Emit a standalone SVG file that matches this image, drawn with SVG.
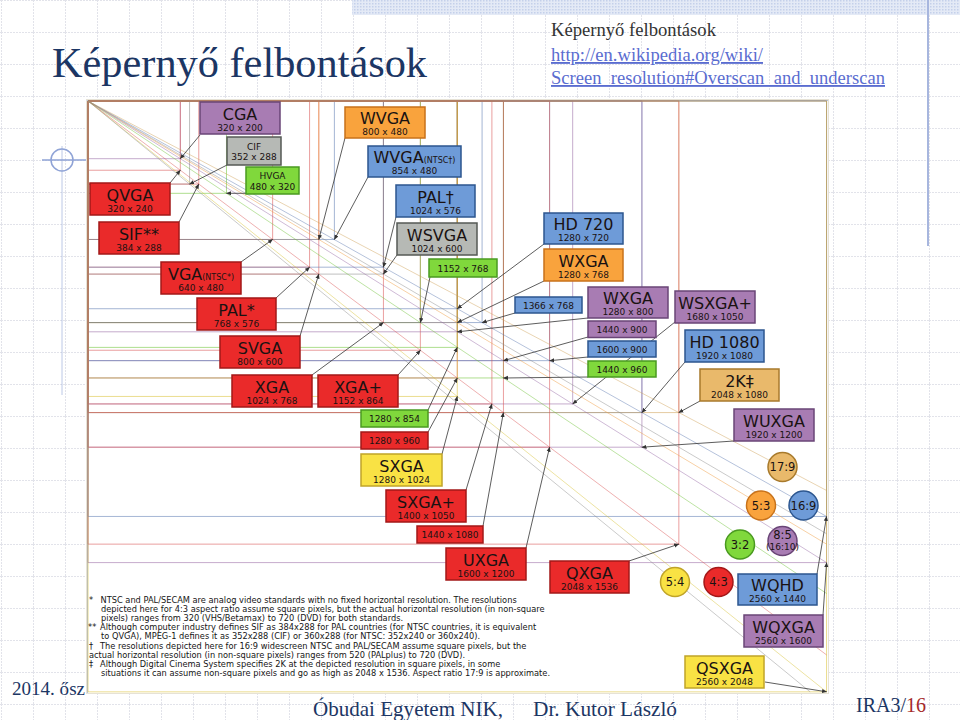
<svg xmlns="http://www.w3.org/2000/svg" width="960" height="720" viewBox="0 0 960 720">
<defs>
<pattern id="grid" x="1" y="0" width="32" height="32" patternUnits="userSpaceOnUse">
<path d="M0 0.5 H32 M0.5 0 V32" fill="none" stroke="#e2e3ea" stroke-width="1" stroke-dasharray="2 1"/>
</pattern>
<pattern id="dots" width="3" height="3" patternUnits="userSpaceOnUse">
<rect width="3" height="3" fill="#e4eaf6"/>
<rect width="1.5" height="1.5" fill="#c4d0ea"/>
</pattern>
<marker id="ah" viewBox="0 0 6 6" refX="5.5" refY="3" markerWidth="5" markerHeight="5" markerUnits="userSpaceOnUse" orient="auto">
<path d="M0 0.5 L6 3 L0 5.5 z" fill="#333"/>
</marker>
<style>
.bg{fill:url(#grid)}
.ln{fill:none;stroke-width:1;vector-effect:non-scaling-stroke;stroke-opacity:0.55}
.dg{fill:none;stroke-width:1;vector-effect:non-scaling-stroke;stroke-opacity:0.45}
.r{stroke:#d95050}.p{stroke:#9566a3}.b{stroke:#5a78b0}.o{stroke:#ef9a3a}.g{stroke:#6cc232}.y{stroke:#d8c030}.k{stroke:#8a8a8a}.n{stroke:#cfa055}
.ar{stroke:#333;stroke-width:0.8;fill:none;marker-end:url(#ah)}
.box{stroke-width:1.5}
.red{fill:#ea2a2a;stroke:#a31818}
.pur{fill:#a87cb3;stroke:#6a4577}
.blu{fill:#6e9bd8;stroke:#2c568f}
.ora{fill:#f9a33d;stroke:#c8721a}
.grn{fill:#80d83c;stroke:#4a9a20}
.gry{fill:#b6b9b5;stroke:#555a55}
.yel{fill:#f9e244;stroke:#c0a428}
.tan{fill:#e9b96b;stroke:#a87a2c}
.t1{font-family:"DejaVu Sans",sans-serif;font-size:16px;fill:#1a1212;text-anchor:middle}
.t2{font-family:"DejaVu Sans",sans-serif;font-size:9px;fill:#1a1212;text-anchor:middle}
.t3{font-family:"DejaVu Sans",sans-serif;font-size:11.5px;fill:#1a1212;text-anchor:middle}
.fn{font-family:"DejaVu Sans",sans-serif;font-size:8.25px;fill:#151515}
.sl{font-family:"Liberation Serif","Times New Roman",serif;fill:#1c3664}
</style>
</defs>

<!-- slide background -->
<rect width="960" height="720" fill="#ffffff"/>
<rect class="bg" width="960" height="720"/>
<rect x="352" y="0" width="608" height="15" fill="url(#dots)"/>
<line x1="928" y1="0" x2="928" y2="246" stroke="#a7b6de" stroke-width="2"/>
<g id="crosshair" fill="none" stroke="#8fa3d6" stroke-width="1.5">
<circle cx="62" cy="160" r="11"/>
<line x1="42" y1="160" x2="88" y2="160"/>
<line x1="62" y1="146" x2="62" y2="395" stroke-width="1" stroke-opacity="0.6"/>
</g>

<!-- slide texts -->
<text class="sl" x="52" y="77" font-size="42" textLength="375" lengthAdjust="spacingAndGlyphs">Képernyő felbontások</text>
<text x="551" y="36" font-family="Liberation Serif,serif" font-size="18.5" fill="#333" textLength="165" lengthAdjust="spacingAndGlyphs">Képernyő felbontások</text>
<text x="551" y="61" font-family="Liberation Serif,serif" font-size="18.5" fill="#5a6cd0" text-decoration="underline" textLength="212" lengthAdjust="spacingAndGlyphs">http://en.wikipedia.org/wiki/</text>
<text x="551" y="84" font-family="Liberation Serif,serif" font-size="18.5" fill="#5a6cd0" text-decoration="underline" textLength="334" lengthAdjust="spacingAndGlyphs">Screen_resolution#Overscan_and_underscan</text>

<!-- chart area -->
<rect x="86.5" y="99.5" width="742" height="594" fill="#ffffff" stroke="#e6e2d6" stroke-width="1"/>
<line x1="87" y1="100.5" x2="828" y2="100.5" stroke="#b8c2d8" stroke-width="1.2"/>
<line x1="87.5" y1="100" x2="87.5" y2="693" stroke="#b8c2d8" stroke-width="1"/>

<g id="connectors">
<g id="grid-lines" transform="translate(88,101) scale(0.2885)">
<rect class="ln p" width="320" height="200"/>
<rect class="ln k" width="352" height="288"/>
<rect class="ln g" width="480" height="320"/>
<rect class="ln r" width="320" height="240"/>
<rect class="ln r" width="384" height="288"/>
<rect class="ln r" width="640" height="480"/>
<rect class="ln r" width="768" height="576"/>
<rect class="ln r" width="800" height="600"/>
<rect class="ln r" width="1024" height="768"/>
<rect class="ln r" width="1152" height="864"/>
<rect class="ln o" width="800" height="480"/>
<rect class="ln b" width="854" height="480"/>
<rect class="ln b" width="1024" height="576"/>
<rect class="ln k" width="1024" height="600"/>
<rect class="ln g" width="1152" height="768"/>
<rect class="ln b" width="1280" height="720"/>
<rect class="ln o" width="1280" height="768"/>
<rect class="ln b" width="1366" height="768"/>
<rect class="ln p" width="1280" height="800"/>
<rect class="ln p" width="1440" height="900"/>
<rect class="ln b" width="1600" height="900"/>
<rect class="ln g" width="1440" height="960"/>
<rect class="ln p" width="1680" height="1050"/>
<rect class="ln b" width="1920" height="1080"/>
<rect class="ln n" width="2048" height="1080"/>
<rect class="ln p" width="1920" height="1200"/>
<rect class="ln g" width="1280" height="854"/>
<rect class="ln r" width="1280" height="960"/>
<rect class="ln y" width="1280" height="1024"/>
<rect class="ln r" width="1400" height="1050"/>
<rect class="ln r" width="1440" height="1080"/>
<rect class="ln r" width="1600" height="1200"/>
<rect class="ln r" width="2048" height="1536"/>
<rect class="ln b" width="2560" height="1440"/>
<rect class="ln p" width="2560" height="1600"/>
<rect class="ln y" width="2560" height="2048"/>
<line class="dg y" x1="0" y1="0" x2="2560" y2="2048"/>
<line class="dg r" x1="0" y1="0" x2="2560" y2="1920"/>
<line class="dg k" x1="0" y1="0" x2="2503" y2="2048"/>
<line class="dg g" x1="0" y1="0" x2="2560" y2="1707"/>
<line class="dg p" x1="0" y1="0" x2="2560" y2="1600"/>
<line class="dg o" x1="0" y1="0" x2="2560" y2="1536"/>
<line class="dg k" x1="0" y1="0" x2="2560" y2="1500"/>
<line class="dg b" x1="0" y1="0" x2="2560" y2="1440"/>
<line class="dg n" x1="0" y1="0" x2="2560" y2="1350"/>
</g>
<g id="arrows">
<line class="ar" x1="200" y1="135" x2="180.3" y2="158.7"/>
<line class="ar" x1="227" y1="165" x2="189.6" y2="184.1"/>
<line class="ar" x1="246" y1="193.3" x2="226.5" y2="193.3"/>
<line class="ar" x1="170" y1="183" x2="180.3" y2="170.2"/>
<line class="ar" x1="179" y1="222" x2="198.8" y2="184.1"/>
<line class="ar" x1="241" y1="262" x2="272.6" y2="239.5"/>
<line class="ar" x1="276" y1="298" x2="309.6" y2="267.2"/>
<line class="ar" x1="300" y1="336" x2="318.8" y2="274.1"/>
<line class="ar" x1="312" y1="375" x2="383.4" y2="322.6"/>
<line class="ar" x1="398" y1="375" x2="420.4" y2="350.3"/>
<line class="ar" x1="345" y1="138" x2="318.8" y2="239.5"/>
<line class="ar" x1="368" y1="177" x2="334.4" y2="239.5"/>
<line class="ar" x1="396" y1="217" x2="383.4" y2="267.2"/>
<line class="ar" x1="397" y1="255" x2="383.4" y2="274.1"/>
<line class="ar" x1="430" y1="277" x2="420.4" y2="322.6"/>
<line class="ar" x1="544" y1="244" x2="457.3" y2="308.7"/>
<line class="ar" x1="544" y1="281" x2="457.3" y2="322.6"/>
<line class="ar" x1="515" y1="313" x2="482.1" y2="322.6"/>
<line class="ar" x1="588" y1="318" x2="457.3" y2="331.8"/>
<line class="ar" x1="588" y1="337" x2="503.4" y2="360.7"/>
<line class="ar" x1="588" y1="357" x2="549.6" y2="360.7"/>
<line class="ar" x1="588" y1="377" x2="503.4" y2="378"/>
<line class="ar" x1="675" y1="322" x2="572.7" y2="403.9"/>
<line class="ar" x1="685" y1="362" x2="641.9" y2="412.6"/>
<line class="ar" x1="700" y1="401" x2="678.8" y2="412.6"/>
<line class="ar" x1="734" y1="441" x2="641.9" y2="447.2"/>
<line class="ar" x1="428" y1="410" x2="457.3" y2="347.4"/>
<line class="ar" x1="428" y1="432" x2="457.3" y2="378"/>
<line class="ar" x1="442" y1="454" x2="457.3" y2="396.4"/>
<line class="ar" x1="466" y1="490" x2="491.9" y2="403.9"/>
<line class="ar" x1="483" y1="526" x2="503.4" y2="412.6"/>
<line class="ar" x1="526" y1="548" x2="549.6" y2="447.2"/>
<line class="ar" x1="629" y1="561" x2="678.8" y2="544.1"/>
<line class="ar" x1="817" y1="574" x2="826.6" y2="516.4"/>
<line class="ar" x1="823" y1="615" x2="826.6" y2="562.6"/>
<line class="ar" x1="765" y1="682" x2="826.6" y2="691.8"/>
</g>
</g>

<!-- nodes -->
<g id="cga"><rect class="box pur" x="200" y="102" width="80" height="32"/><text class="t1" x="240" y="119.5">CGA</text><text class="t2" x="240" y="130.5">320 x 200</text></g>
<g id="cif"><rect class="box gry" x="227" y="137" width="54" height="28"/><text class="t2" x="254" y="149.5">CIF</text><text class="t2" x="254" y="160">352 x 288</text></g>
<g id="hvga"><rect class="box grn" x="246" y="167" width="53" height="27"/><text class="t2" x="272.5" y="179">HVGA</text><text class="t2" x="272.5" y="189.5">480 x 320</text></g>
<g id="qvga"><rect class="box red" x="90" y="183" width="80" height="32"/><text class="t1" x="130" y="200.5">QVGA</text><text class="t2" x="130" y="211.5">320 x 240</text></g>
<g id="sif"><rect class="box red" x="99" y="222" width="80" height="32"/><text class="t1" x="139" y="239.5">SIF**</text><text class="t2" x="139" y="250.5">384 x 288</text></g>
<g id="vga"><rect class="box red" x="161" y="262" width="80" height="32"/><text class="t1" x="201" y="279.5">VGA<tspan font-size="8">(NTSC*)</tspan></text><text class="t2" x="201" y="290.5">640 x 480</text></g>
<g id="pal"><rect class="box red" x="197" y="298" width="79" height="32"/><text class="t1" x="236.5" y="315.5">PAL*</text><text class="t2" x="236.5" y="326.5">768 x 576</text></g>
<g id="svga"><rect class="box red" x="220" y="336" width="80" height="32"/><text class="t1" x="260" y="353.5">SVGA</text><text class="t2" x="260" y="364.5">800 x 600</text></g>
<g id="xga"><rect class="box red" x="232" y="375" width="80" height="32"/><text class="t1" x="272" y="392.5">XGA</text><text class="t2" x="272" y="403.5">1024 x 768</text></g>
<g id="xgaplus"><rect class="box red" x="318" y="375" width="80" height="32"/><text class="t1" x="358" y="392.5">XGA+</text><text class="t2" x="358" y="403.5">1152 x 864</text></g>
<g id="wvga"><rect class="box ora" x="345" y="107" width="80" height="31"/><text class="t1" x="385" y="124">WVGA</text><text class="t2" x="385" y="135">800 x 480</text></g>
<g id="wvga-ntsc"><rect class="box blu" x="368" y="146" width="93" height="31"/><text class="t1" x="414.5" y="163">WVGA<tspan font-size="8">(NTSC†)</tspan></text><text class="t2" x="414.5" y="174">854 x 480</text></g>
<g id="pal-wide"><rect class="box blu" x="396" y="185" width="79" height="32"/><text class="t1" x="435.5" y="202.5">PAL†</text><text class="t2" x="435.5" y="213.5">1024 x 576</text></g>
<g id="wsvga"><rect class="box gry" x="397" y="223" width="80" height="32"/><text class="t1" x="437" y="240.5">WSVGA</text><text class="t2" x="437" y="251.5">1024 x 600</text></g>
<g id="r1152x768"><rect class="box grn" x="429" y="259" width="68" height="18"/><text class="t2" x="463" y="271.5">1152 x 768</text></g>
<g id="hd720"><rect class="box blu" x="544" y="213" width="79" height="31"/><text class="t1" x="583.5" y="230">HD 720</text><text class="t2" x="583.5" y="241">1280 x 720</text></g>
<g id="wxga768"><rect class="box ora" x="544" y="249" width="79" height="32"/><text class="t1" x="583.5" y="266.5">WXGA</text><text class="t2" x="583.5" y="277.5">1280 x 768</text></g>
<g id="r1366x768"><rect class="box blu" x="515" y="297" width="67" height="16"/><text class="t2" x="548.5" y="308.5">1366 x 768</text></g>
<g id="wxga800"><rect class="box pur" x="588" y="287" width="80" height="31"/><text class="t1" x="628" y="304">WXGA</text><text class="t2" x="628" y="315">1280 x 800</text></g>
<g id="r1440x900"><rect class="box pur" x="588" y="321" width="68" height="16.5"/><text class="t2" x="622" y="332.5">1440 x 900</text></g>
<g id="r1600x900"><rect class="box blu" x="588" y="341" width="68" height="16"/><text class="t2" x="622" y="352.5">1600 x 900</text></g>
<g id="r1440x960"><rect class="box grn" x="588" y="361" width="68" height="16"/><text class="t2" x="622" y="372.5">1440 x 960</text></g>
<g id="wsxgaplus"><rect class="box pur" x="675" y="291" width="80" height="32"/><text class="t1" x="715" y="308.5">WSXGA+</text><text class="t2" x="715" y="319.5">1680 x 1050</text></g>
<g id="hd1080"><rect class="box blu" x="685" y="330" width="79" height="32"/><text class="t1" x="724.5" y="347.5">HD 1080</text><text class="t2" x="724.5" y="358.5">1920 x 1080</text></g>
<g id="k2"><rect class="box tan" x="700" y="369" width="79" height="32"/><text class="t1" x="739.5" y="386.5">2K‡</text><text class="t2" x="739.5" y="397.5">2048 x 1080</text></g>
<g id="wuxga"><rect class="box pur" x="734" y="409" width="80" height="32"/><text class="t1" x="774" y="426.5">WUXGA</text><text class="t2" x="774" y="437.5">1920 x 1200</text></g>
<g id="r1280x854"><rect class="box grn" x="361" y="410" width="67" height="17"/><text class="t2" x="394.5" y="422">1280 x 854</text></g>
<g id="r1280x960"><rect class="box red" x="361" y="432" width="67" height="17"/><text class="t2" x="394.5" y="444">1280 x 960</text></g>
<g id="sxga"><rect class="box yel" x="361" y="454" width="81" height="32"/><text class="t1" x="401.5" y="471.5">SXGA</text><text class="t2" x="401.5" y="482.5">1280 x 1024</text></g>
<g id="sxgaplus"><rect class="box red" x="386" y="490" width="80" height="32"/><text class="t1" x="426" y="507.5">SXGA+</text><text class="t2" x="426" y="518.5">1400 x 1050</text></g>
<g id="r1440x1080"><rect class="box red" x="417" y="526" width="66" height="17"/><text class="t2" x="450" y="538">1440 x 1080</text></g>
<g id="uxga"><rect class="box red" x="446" y="548" width="80" height="32"/><text class="t1" x="486" y="565.5">UXGA</text><text class="t2" x="486" y="576.5">1600 x 1200</text></g>
<g id="qxga"><rect class="box red" x="550" y="561" width="79" height="32"/><text class="t1" x="589.5" y="578.5">QXGA</text><text class="t2" x="589.5" y="589.5">2048 x 1536</text></g>
<g id="wqhd"><rect class="box blu" x="738" y="574" width="79" height="31"/><text class="t1" x="777.5" y="591">WQHD</text><text class="t2" x="777.5" y="602">2560 x 1440</text></g>
<g id="wqxga"><rect class="box pur" x="744" y="615" width="79" height="32"/><text class="t1" x="783.5" y="632.5">WQXGA</text><text class="t2" x="783.5" y="643.5">2560 x 1600</text></g>
<g id="qsxga"><rect class="box yel" x="685" y="656" width="79" height="32"/><text class="t1" x="724.5" y="673.5">QSXGA</text><text class="t2" x="724.5" y="684.5">2560 x 2048</text></g>

<!-- aspect ratio legend -->
<g id="ratio-17-9"><circle class="box tan" cx="782.5" cy="467" r="14.5"/><text class="t3" x="782.5" y="471">17:9</text></g>
<g id="ratio-5-3"><circle class="box ora" cx="761" cy="505.5" r="14.5"/><text class="t3" x="761" y="509.5">5:3</text></g>
<g id="ratio-16-9"><circle class="box blu" cx="803.5" cy="505.5" r="14.5"/><text class="t3" x="803.5" y="509.5">16:9</text></g>
<g id="ratio-3-2"><circle class="box grn" cx="740" cy="544.5" r="14.5"/><text class="t3" x="740" y="548.5">3:2</text></g>
<g id="ratio-8-5"><circle class="box pur" cx="782.5" cy="541" r="14.5"/><text class="t3" x="782.5" y="538.5" font-size="10.5">8:5</text><text class="t2" x="782.5" y="549.5" font-size="4.8">(16:10)</text></g>
<g id="ratio-5-4"><circle class="box yel" cx="675" cy="582" r="14.5"/><text class="t3" x="675" y="586">5:4</text></g>
<g id="ratio-4-3"><circle class="box red" cx="718.5" cy="582" r="14.5"/><text class="t3" x="718.5" y="586">4:3</text></g>

<!-- footnotes -->
<g id="footnotes" class="fn">
<text x="89" y="603">*</text><text x="100.5" y="603">NTSC and PAL/SECAM are analog video standards with no fixed horizontal resolution. The resolutions</text>
<text x="101" y="612">depicted here for 4:3 aspect ratio assume square pixels, but the actual horizontal resolution (in non-square</text>
<text x="101" y="621">pixels) ranges from 320 (VHS/Betamax) to 720 (DVD) for both standards.</text>
<text x="88" y="630">**</text><text x="100" y="630">Although computer industry defines SIF as 384x288 for PAL countries (for NTSC countries, it is equivalent</text>
<text x="101" y="639">to QVGA), MPEG-1 defines it as 352x288 (CIF) or 360x288 (for NTSC: 352x240 or 360x240).</text>
<text x="89" y="648.5">†</text><text x="100" y="648.5">The resolutions depicted here for 16:9 widescreen NTSC and PAL/SECAM assume square pixels, but the</text>
<text x="89" y="657.5">actual horizontal resolution (in non-square pixels) ranges from 520 (PALplus) to 720 (DVD).</text>
<text x="89" y="667">‡</text><text x="100" y="667">Although Digital Cinema System specifies 2K at the depicted resolution in square pixels, in some</text>
<text x="101" y="676">situations it can assume non-square pixels and go as high as 2048 x 1536. Aspect ratio 17:9 is approximate.</text>
</g>

<!-- footer -->
<text class="sl" x="12" y="695" font-size="19" textLength="73" lengthAdjust="spacingAndGlyphs">2014. ősz</text>
<text class="sl" x="313" y="716" font-size="22" textLength="190" lengthAdjust="spacingAndGlyphs">Óbudai Egyetem NIK,</text>
<text class="sl" x="533" y="716" font-size="22" textLength="144" lengthAdjust="spacingAndGlyphs">Dr. Kutor László</text>
<text class="sl" x="856" y="712" font-size="20">IRA3/<tspan fill="#a52a2a">16</tspan></text>
</svg>
